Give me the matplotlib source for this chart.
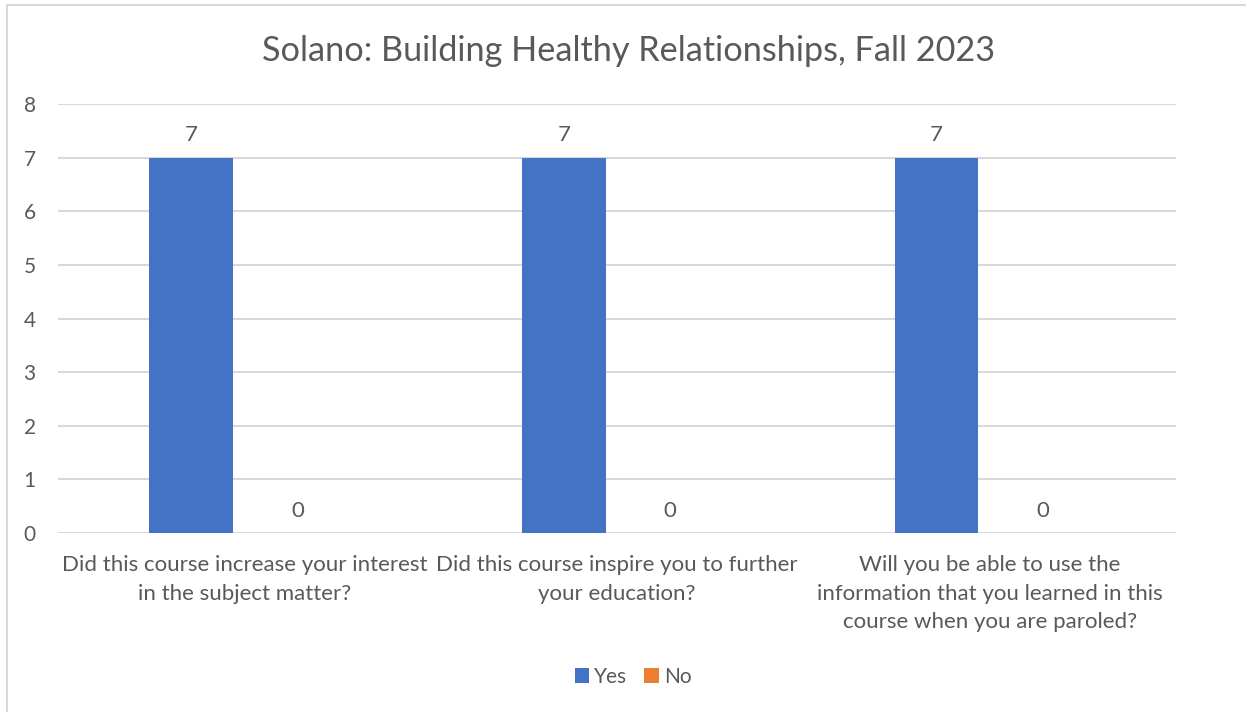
import matplotlib.pyplot as plt
import matplotlib.patches as patches
import numpy as np

# Data
questions = [
  "Did this course increase your interest\nin the subject matter?",
  "Did this course inspire you to further\nyour education?",
  "Will you be able to use the\ninformation that you learned in this\ncourse when you are paroled?",
]
yes_counts = [7, 7, 7]
no_counts = [0, 0, 0]
title = "Solano: Building Healthy Relationships, Fall 2023"

blue = '#4472C4'
orange = '#ED7D31'
textc = '#595959'
gridc = '#D9D9D9'

plt.rcParams['font.family'] = ['Lato', 'DejaVu Sans']

fig = plt.figure(figsize=(12.46, 7.12), dpi=100)
ax = fig.add_axes([0.0465, 0.2514, 0.8973, 0.6025])

# Light chart border
fig.patches.append(patches.Rectangle((7/1246, -0.1), 1.2, (712-5)/712 + 0.1, transform=fig.transFigure,
                                     fill=False, edgecolor=gridc, linewidth=1.5))

x = np.arange(len(questions))
w = 0.225
off = 0.1425
b1 = ax.bar(x - off, yes_counts, w, color=blue, label='Yes', zorder=3)
b2 = ax.bar(x + off, no_counts, w, color=orange, label='No', zorder=3)
ax.bar_label(b1, padding=9, fontsize=16, color=textc)
ax.bar_label(b2, padding=9, fontsize=16, color=textc)

ax.set_xlim(-0.5, 2.5)
ax.set_ylim(0, 8)
ax.set_yticks(range(0, 9))
ax.grid(axis='y', color=gridc, linewidth=1.5, zorder=0)
for s in ax.spines.values():
  s.set_visible(False)
ax.tick_params(axis='y', length=0, pad=16, labelsize=15, labelcolor=textc)
ax.tick_params(axis='x', length=0, pad=16, labelsize=16, labelcolor=textc)
ax.set_xticks(x)
ax.set_xticklabels(questions, linespacing=1.52)

fig.text(629/1246, 1 - 51/712, title, ha='center', va='center', fontsize=24.7, color=textc)

ax.legend(loc='center', bbox_to_anchor=(633/1246, 1 - 677/712), bbox_transform=fig.transFigure,
          ncol=2, frameon=False, fontsize=15, labelcolor=textc, handlelength=0.7, handleheight=0.7,
          handletextpad=0.25, columnspacing=0.8)

plt.savefig('out.png', dpi=100)
